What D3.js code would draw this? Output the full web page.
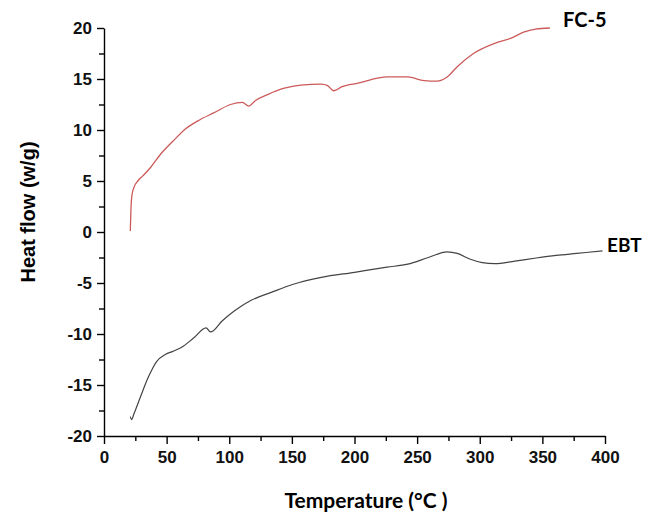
<!DOCTYPE html>
<html>
<head>
<meta charset="utf-8">
<script src="https://cdn.jsdelivr.net/npm/d3@7"></script>
<style>
  body { margin: 0; background: #fff; }
</style>
</head>
<body>
<script>
// DSC curves
var tempFC = [21, 21.5, 22.3, 24, 27, 31, 37, 45, 55, 65, 75, 88, 101, 110.5, 115.5, 121, 131, 144, 157, 173.5, 178.5, 183.5, 190, 203, 226, 242.5, 255.5, 265.5, 274, 282, 295, 312, 325, 335, 344.5, 356];
var heatFC = [0.1, 2.2, 3.6, 4.4, 5.0, 5.5, 6.3, 7.6, 8.9, 10.1, 10.9, 11.7, 12.5, 12.7, 12.35, 12.9, 13.5, 14.1, 14.4, 14.5, 14.35, 13.85, 14.25, 14.6, 15.2, 15.2, 14.85, 14.8, 15.2, 16.2, 17.5, 18.5, 19.0, 19.6, 19.9, 20.0];

var tempEBT = [21, 22, 24, 29, 35.5, 42, 49, 55, 62, 71.5, 81.5, 85, 94.5, 104.5, 117.5, 134, 150.5, 173.5, 200, 226, 242.5, 259, 274, 282, 292, 302, 312, 328, 345, 361, 377.5, 398];
var heatEBT = [-18.1, -18.4, -17.8, -16.2, -14.2, -12.7, -12.0, -11.7, -11.3, -10.4, -9.4, -9.8, -8.7, -7.7, -6.7, -5.9, -5.15, -4.45, -3.95, -3.45, -3.15, -2.5, -1.95, -2.1, -2.65, -3.0, -3.1, -2.85, -2.55, -2.3, -2.1, -1.85];

var xTicks = [0, 50, 100, 150, 200, 250, 300, 350, 400];
var yTicks = [-20, -15, -10, -5, 0, 5, 10, 15, 20];

var margin = {top: 28, left: 104};
var width = 501;
var height = 408;

var svg = d3.select("body").append("svg")
    .attr("width", 646)
    .attr("height", 513);

var g = svg.append("g")
    .attr("transform", "translate(" + margin.left + "," + margin.top + ")");

var xScale = d3.scaleLinear().domain([0, 400]).range([0, width]);
var yScale = d3.scaleLinear().domain([-20, 20]).range([height, 0]);

// plain hyphen for negatives, like the original
var plain = function(d) { return String(d); };

// minor ticks first, then the labelled axes on top
g.append("g")
    .attr("transform", "translate(0," + height + ")")
    .call(d3.axisBottom(xScale).tickValues(d3.range(25, 400, 50)).tickSize(5).tickFormat(""))
    .call(function(a) { a.select(".domain").remove(); });
g.append("g")
    .call(d3.axisLeft(yScale).tickValues(d3.range(-17.5, 20, 5)).tickSize(5).tickFormat(""))
    .call(function(a) { a.select(".domain").remove(); });

var xAxis = g.append("g")
    .attr("transform", "translate(0," + height + ")")
    .call(d3.axisBottom(xScale).tickValues(xTicks).tickFormat(plain).tickSize(8).tickSizeOuter(0).tickPadding(7));
var yAxis = g.append("g")
    .call(d3.axisLeft(yScale).tickValues(yTicks).tickFormat(plain).tickSize(7).tickSizeOuter(0).tickPadding(5));

[xAxis, yAxis].forEach(function(a) {
    a.selectAll("text")
        .attr("font-family", "'Liberation Sans Narrow', 'Arial Narrow', 'Liberation Sans', sans-serif")
        .attr("font-weight", "bold")
        .attr("font-size", "17px")
        .attr("fill", "#111");
});
g.selectAll("path.domain, line").attr("stroke", "#000").attr("stroke-width", 1.4);

var line = d3.line()
    .x(function(d) { return xScale(d[0]); })
    .y(function(d) { return yScale(d[1]); })
    .curve(d3.curveMonotoneX);

g.append("path")
    .datum(d3.zip(tempFC, heatFC))
    .attr("d", line)
    .attr("fill", "none")
    .attr("stroke", "#cc5a5a")
    .attr("stroke-width", 1.3);

g.append("path")
    .datum(d3.zip(tempEBT, heatEBT))
    .attr("d", line)
    .attr("fill", "none")
    .attr("stroke", "#444")
    .attr("stroke-width", 1.2);

// series labels
svg.append("text")
    .attr("x", 563).attr("y", 27)
    .attr("font-family", "Lato, sans-serif")
    .attr("font-weight", "bold")
    .attr("font-size", "20px")
    .text("FC-5");
svg.append("text")
    .attr("x", 607).attr("y", 252)
    .attr("font-family", "Lato, sans-serif")
    .attr("font-weight", "bold")
    .attr("font-size", "19px")
    .text("EBT");

// axis titles
svg.append("text")
    .attr("x", 366).attr("y", 508)
    .attr("text-anchor", "middle")
    .attr("font-family", "Lato, sans-serif")
    .attr("font-weight", "bold")
    .attr("font-size", "21px")
    .text("Temperature (°C )");
svg.append("text")
    .attr("transform", "translate(35,212) rotate(-90)")
    .attr("text-anchor", "middle")
    .attr("font-family", "'Liberation Sans', Arial, sans-serif")
    .attr("font-weight", "bold")
    .attr("font-size", "20px")
    .text("Heat flow (w/g)");
</script>
</body>
</html>
